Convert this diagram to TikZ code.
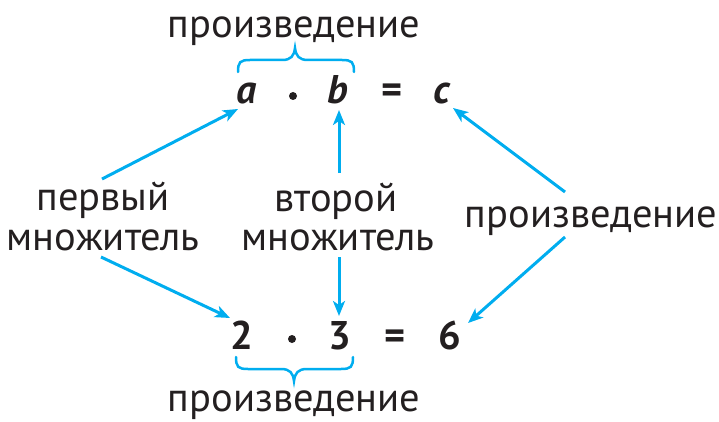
\documentclass[tikz,border=0pt]{standalone}
\usepackage{fontspec}
\setmainfont{PT Sans}
\usetikzlibrary{arrows.meta}
\definecolor{cy}{RGB}{0,173,239}
\definecolor{ink}{RGB}{35,31,32}
\begin{document}
\begin{tikzpicture}[x=1pt,y=-1pt,
 lbl/.style={font=\fontsize{40.5}{42}\selectfont, text=ink, inner sep=0pt, anchor=base},
 sym/.style={font=\fontsize{40}{42}\selectfont\bfseries\itshape, text=ink, inner sep=0pt, anchor=base},
 num/.style={font=\fontsize{40}{42}\selectfont\bfseries, text=ink, inner sep=0pt, anchor=base},
 dotm/.style={circle, fill=ink, minimum size=8pt, inner sep=0pt},
 arr/.style={draw=cy, line width=3pt, -{Stealth[length=15pt,width=12pt,inset=4pt]}},
 brc/.style={draw=cy, line width=2.5pt, line cap=round}]
\useasboundingbox (0,0) rectangle (719,422);
% top row
\node[lbl] (ptop) at (294,38) {произведение};
\node[sym] (a) at (247,104) {a};
\node[dotm] (d1) at (293,96) {};
\node[sym] (b) at (338,104) {b};
\node[num] (e1) at (392,104) {=};
\node[sym] (c) at (442,104) {c};
% bottom row
\node[num] (n2) at (242,349) {2};
\node[dotm] (d2) at (292,339) {};
\node[num] (n3) at (340,349) {3};
\node[num] (e2) at (395,349) {=};
\node[num] (n6) at (450,349) {6};
\node[lbl] (pbot) at (294,411) {произведение};
% labels
\node[lbl] (f1) at (103,210) {первый};
\node[lbl] (f2) at (103,250) {множитель};
\node[lbl] (s1) at (336,211) {второй};
\node[lbl] (s2) at (338,250) {множитель};
\node[lbl] (pr) at (591,227) {произведение};
% braces
\draw[brc] (238,72) .. controls (238,62) and (240,60) .. (250,60) -- (282,60) .. controls (291,60) and (294,56) .. (295,48) .. controls (296,56) and (299,60) .. (308,60) -- (342,60) .. controls (352,60) and (354,62) .. (354,72);
\draw[brc] (236,357) .. controls (236,367) and (238,369) .. (248,369) -- (281,369) .. controls (290,369) and (293,373) .. (294,381) .. controls (295,373) and (298,369) .. (307,369) -- (341,369) .. controls (351,369) and (353,367) .. (353,357);
% arrow ends
\coordinate (u1) at (102,179); \coordinate (t1) at (238,109);
\coordinate (u2) at (339,173); \coordinate (t2) at (339,110);
\coordinate (u3) at (565,192); \coordinate (t3) at (453,108);
\coordinate (u4) at (101,257); \coordinate (t4) at (230,318);
\coordinate (u5) at (339,257); \coordinate (t5) at (339,316);
\coordinate (u6) at (565,237); \coordinate (t6) at (468,323);
\draw[arr] (u1) -- (t1);
\draw[arr] (u2) -- (t2);
\draw[arr] (u3) -- (t3);
\draw[arr] (u4) -- (t4);
\draw[arr] (u5) -- (t5);
\draw[arr] (u6) -- (t6);
\end{tikzpicture}
\end{document}
